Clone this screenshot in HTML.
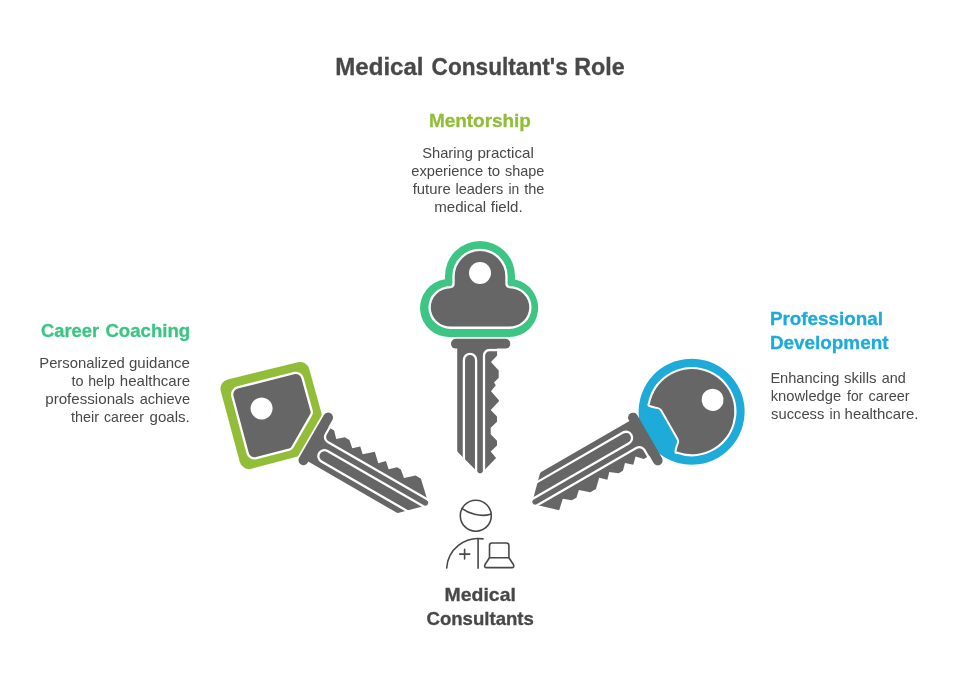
<!DOCTYPE html>
<html><head><meta charset="utf-8"><title>Medical Consultant's Role</title>
<style>
html,body{margin:0;padding:0;background:#fff;}
body{width:960px;height:678px;overflow:hidden;font-family:"Liberation Sans",sans-serif;}
svg{display:block;position:absolute;left:0;top:0;will-change:transform;}
text{font-family:"Liberation Sans",sans-serif;}
</style></head><body>
<svg width="960" height="678" viewBox="0 0 960 678">
<rect width="960" height="678" fill="#ffffff"/>
<g transform="rotate(-60 480 533)">
<path d="M473.25 237.61 A9.5 9.5 0 0 1 486.82 237.76 L536.73 289.87 A9.5 9.5 0 0 1 536.65 303.10 L504.20 336.10 A3 3 0 0 1 502.06 337.00 L456.63 337.00 A3 3 0 0 1 454.51 336.12 L421.34 302.96 A9.5 9.5 0 0 1 421.34 289.52 Z" fill="#92bd39"/>
<path d="M475.44 251.01 A6 6 0 0 1 483.97 251.06 L524.64 292.64 A6 6 0 0 1 524.62 301.05 L500.77 325.30 A4 4 0 0 1 497.91 326.50 L460.46 326.50 A4 4 0 0 1 457.60 325.30 L433.78 301.08 A6 6 0 0 1 433.82 292.63 Z" fill="#666666" stroke="#fff" stroke-width="4.6" paint-order="stroke"/>
<circle cx="478.6" cy="281.6" r="11" fill="#fff"/>
<g transform="translate(-1.25 0)">
<path d="M457.2 345 H497.1 V355.4 L490.8 361.5 L496.5 368 V373.4 L490.8 380 L496.3 386 L490.8 392 L499 401.3 L490.8 410 L496.5 415.6 L490.8 422 L496.7 428.4 V432.7 L490.8 439.7 L499 448.5 L498.7 454.7 L481.3 473.3 H478.9 L458.2 452.6 Q457.2 451.6 457.2 450 Z" fill="#666666"/>
<path d="M463.9 462 V359.9 A6.1 6.1 0 0 1 476.1 359.9 V472" fill="none" stroke="#fff" stroke-width="2.3"/>
<path d="M484 472 V355.6 A5.6 5.6 0 0 1 489.6 350 H500" fill="none" stroke="#fff" stroke-width="2.3"/>
<rect x="451" y="338.8" width="59.3" height="9.8" rx="4.9" fill="#666666"/>
</g>
</g>
<g transform="rotate(60 480 533)">
<circle cx="480.8" cy="289.1" r="53" fill="#1eabda"/>
<path d="M508 321.7 A42.6 42.6 0 1 0 453.6 321.7 Q453.2 322.6 454.2 321.9 Q457.4 319.3 460 315.9 Q461.6 313.9 464.6 313.9 H497 Q500 313.9 501.6 315.9 Q504.2 319.3 507.4 321.9 Q508.4 322.6 508 321.7 Z" fill="#666666" stroke="#fff" stroke-width="4" stroke-linejoin="round" paint-order="stroke"/>
<circle cx="481" cy="265" r="11" fill="#fff"/>
<g transform="translate(0.6 -0.9)">
<path d="M457.2 345 H497.1 V355 L491 361 L497 367 L491.2 373.3 L497 379 V384 L491.2 391.4 L497 397 L491.2 403.1 L499.3 411.5 V418 L491.5 426.7 L497 432.7 V438.1 L491.2 445.1 L499.2 453.9 L481.3 473.3 H478.9 L458.2 452.6 Q457.2 451.6 457.2 450 Z" fill="#666666"/>
<path d="M463.9 462 V359.9 A6.1 6.1 0 0 1 476.1 359.9 V472" fill="none" stroke="#fff" stroke-width="2.3"/>
<path d="M484 472 V355.6 A5.6 5.6 0 0 1 489.6 350 H500" fill="none" stroke="#fff" stroke-width="2.3"/>
<rect x="451" y="338.8" width="59.3" height="9.8" rx="4.9" fill="#666666"/>
</g>
</g>
<g>
<path d="M445 279.3 V276 A35 35 0 0 1 515 276 V279.6 A29 29 0 0 1 509.3 337 H450 A29 29 0 0 1 445 279.3 Z" fill="#3cc583"/>
<path d="M454.7 283.5 V276.3 A25.3 25.3 0 0 1 505.3 276.3 V283.5 Q505.3 287.8 509.5 288.2 A20 19.2 0 0 1 509 326.6 H451 A20 19.2 0 0 1 450.5 288.2 Q454.7 287.8 454.7 283.5 Z" fill="#666666" stroke="#fff" stroke-width="4.6" paint-order="stroke"/>
<circle cx="480" cy="273" r="11" fill="#fff"/>
<path d="M457.2 345 H497.1 V355.5 L491 361.9 L498.7 370.5 V377.7 L494 382.4 L495.8 385.3 L491 391.2 L498.9 400.3 V401.3 L490.7 410 L497 416.5 V421.8 L490.7 427.8 V434.3 L497 440.7 V445.5 L490.7 451.4 L496.1 457.9 L481.3 473.3 H478.9 L458.2 452.6 Q457.2 451.6 457.2 450 Z" fill="#666666"/>
<path d="M463.9 462 V359.9 A6.1 6.1 0 0 1 476.1 359.9 V472" fill="none" stroke="#fff" stroke-width="2.3"/>
<path d="M484 472 V355.6 A5.6 5.6 0 0 1 489.6 350 H500" fill="none" stroke="#fff" stroke-width="2.3"/>
<rect x="451" y="338.8" width="59.3" height="9.8" rx="4.9" fill="#666666"/>
</g>
<g fill="none" stroke="#484848" stroke-width="1.6" stroke-linecap="round" stroke-linejoin="round">
<circle cx="475.8" cy="515.7" r="15.5"/>
<path d="M462.2 508.6 C468 513 480 517.5 490.5 514.2"/>
<path d="M446.7 568 A31.5 31.5 0 0 1 483 538.9"/>
<path d="M478.1 538.5 V568.2"/>
<path d="M459.7 554.1 H469.7 M464.6 549.4 V558.9"/>
<path d="M489.5 557.7 V545.5 A2.5 2.5 0 0 1 492 543 H506.4 A2.5 2.5 0 0 1 508.9 545.5 V557.7"/>
<path d="M489.5 557.7 H508.9 L513.4 564.5 Q514.6 567.5 511.8 567.6 H486.6 Q483.8 567.5 485 564.5 Z"/>
</g>
<text x="335.25" y="74.5" font-size="24.2" font-weight="700" fill="#484848" stroke="#484848" stroke-width="0.3" textLength="88.31" lengthAdjust="spacingAndGlyphs">Medical</text>
<text x="431.61" y="74.5" font-size="24.2" font-weight="700" fill="#484848" stroke="#484848" stroke-width="0.3" textLength="136.20" lengthAdjust="spacingAndGlyphs">Consultant&#39;s</text>
<text x="574.22" y="74.5" font-size="24.2" font-weight="700" fill="#484848" stroke="#484848" stroke-width="0.3" textLength="50.50" lengthAdjust="spacingAndGlyphs">Role</text>
<text x="428.88" y="126.7" font-size="19.0" font-weight="700" fill="#92bd39" stroke="#92bd39" stroke-width="0.3" textLength="102.06" lengthAdjust="spacingAndGlyphs">Mentorship</text>
<text x="422.23" y="157.8" font-size="15.0" font-weight="400" fill="#484848" textLength="50.62" lengthAdjust="spacingAndGlyphs">Sharing</text>
<text x="477.43" y="157.8" font-size="15.0" font-weight="400" fill="#484848" textLength="56.38" lengthAdjust="spacingAndGlyphs">practical</text>
<text x="411.25" y="175.6" font-size="15.0" font-weight="400" fill="#484848" textLength="71.81" lengthAdjust="spacingAndGlyphs">experience</text>
<text x="487.69" y="175.6" font-size="15.0" font-weight="400" fill="#484848" textLength="12.57" lengthAdjust="spacingAndGlyphs">to</text>
<text x="505.03" y="175.6" font-size="15.0" font-weight="400" fill="#484848" textLength="39.36" lengthAdjust="spacingAndGlyphs">shape</text>
<text x="412.72" y="193.6" font-size="15.0" font-weight="400" fill="#484848" textLength="37.94" lengthAdjust="spacingAndGlyphs">future</text>
<text x="455.42" y="193.6" font-size="15.0" font-weight="400" fill="#484848" textLength="47.82" lengthAdjust="spacingAndGlyphs">leaders</text>
<text x="508.55" y="193.6" font-size="15.0" font-weight="400" fill="#484848" textLength="10.79" lengthAdjust="spacingAndGlyphs">in</text>
<text x="524.25" y="193.6" font-size="15.0" font-weight="400" fill="#484848" textLength="20.21" lengthAdjust="spacingAndGlyphs">the</text>
<text x="434.20" y="211.5" font-size="15.0" font-weight="400" fill="#484848" textLength="52.03" lengthAdjust="spacingAndGlyphs">medical</text>
<text x="490.74" y="211.5" font-size="15.0" font-weight="400" fill="#484848" textLength="31.91" lengthAdjust="spacingAndGlyphs">field.</text>
<text x="41.07" y="336.7" font-size="19.0" font-weight="700" fill="#3cc583" stroke="#3cc583" stroke-width="0.3" textLength="58.06" lengthAdjust="spacingAndGlyphs">Career</text>
<text x="105.45" y="336.7" font-size="19.0" font-weight="700" fill="#3cc583" stroke="#3cc583" stroke-width="0.3" textLength="84.70" lengthAdjust="spacingAndGlyphs">Coaching</text>
<text x="39.28" y="367.6" font-size="15.0" font-weight="400" fill="#484848" textLength="85.59" lengthAdjust="spacingAndGlyphs">Personalized</text>
<text x="129.00" y="367.6" font-size="15.0" font-weight="400" fill="#484848" textLength="60.96" lengthAdjust="spacingAndGlyphs">guidance</text>
<text x="71.50" y="385.5" font-size="15.0" font-weight="400" fill="#484848" textLength="12.09" lengthAdjust="spacingAndGlyphs">to</text>
<text x="88.26" y="385.5" font-size="15.0" font-weight="400" fill="#484848" textLength="26.59" lengthAdjust="spacingAndGlyphs">help</text>
<text x="119.81" y="385.5" font-size="15.0" font-weight="400" fill="#484848" textLength="70.22" lengthAdjust="spacingAndGlyphs">healthcare</text>
<text x="45.23" y="403.6" font-size="15.0" font-weight="400" fill="#484848" textLength="89.20" lengthAdjust="spacingAndGlyphs">professionals</text>
<text x="139.63" y="403.6" font-size="15.0" font-weight="400" fill="#484848" textLength="50.41" lengthAdjust="spacingAndGlyphs">achieve</text>
<text x="71.00" y="421.5" font-size="15.0" font-weight="400" fill="#484848" textLength="28.05" lengthAdjust="spacingAndGlyphs">their</text>
<text x="104.06" y="421.5" font-size="15.0" font-weight="400" fill="#484848" textLength="39.82" lengthAdjust="spacingAndGlyphs">career</text>
<text x="149.54" y="421.5" font-size="15.0" font-weight="400" fill="#484848" textLength="40.17" lengthAdjust="spacingAndGlyphs">goals.</text>
<text x="769.92" y="324.8" font-size="19.0" font-weight="700" fill="#1eabda" stroke="#1eabda" stroke-width="0.3" textLength="113.13" lengthAdjust="spacingAndGlyphs">Professional</text>
<text x="769.90" y="348.8" font-size="19.0" font-weight="700" fill="#1eabda" stroke="#1eabda" stroke-width="0.3" textLength="118.58" lengthAdjust="spacingAndGlyphs">Development</text>
<text x="770.39" y="382.7" font-size="15.0" font-weight="400" fill="#484848" textLength="69.04" lengthAdjust="spacingAndGlyphs">Enhancing</text>
<text x="844.00" y="382.7" font-size="15.0" font-weight="400" fill="#484848" textLength="32.55" lengthAdjust="spacingAndGlyphs">skills</text>
<text x="881.85" y="382.7" font-size="15.0" font-weight="400" fill="#484848" textLength="24.01" lengthAdjust="spacingAndGlyphs">and</text>
<text x="770.71" y="400.7" font-size="15.0" font-weight="400" fill="#484848" textLength="70.46" lengthAdjust="spacingAndGlyphs">knowledge</text>
<text x="847.05" y="400.7" font-size="15.0" font-weight="400" fill="#484848" textLength="16.14" lengthAdjust="spacingAndGlyphs">for</text>
<text x="868.56" y="400.7" font-size="15.0" font-weight="400" fill="#484848" textLength="41.00" lengthAdjust="spacingAndGlyphs">career</text>
<text x="771.04" y="418.8" font-size="15.0" font-weight="400" fill="#484848" textLength="53.34" lengthAdjust="spacingAndGlyphs">success</text>
<text x="829.52" y="418.8" font-size="15.0" font-weight="400" fill="#484848" textLength="11.00" lengthAdjust="spacingAndGlyphs">in</text>
<text x="844.62" y="418.8" font-size="15.0" font-weight="400" fill="#484848" textLength="73.83" lengthAdjust="spacingAndGlyphs">healthcare.</text>
<text x="444.52" y="600.8" font-size="19.0" font-weight="700" fill="#484848" stroke="#484848" stroke-width="0.3" textLength="71.34" lengthAdjust="spacingAndGlyphs">Medical</text>
<text x="426.48" y="624.8" font-size="19.0" font-weight="700" fill="#484848" stroke="#484848" stroke-width="0.3" textLength="107.42" lengthAdjust="spacingAndGlyphs">Consultants</text>
</svg>
</body></html>
